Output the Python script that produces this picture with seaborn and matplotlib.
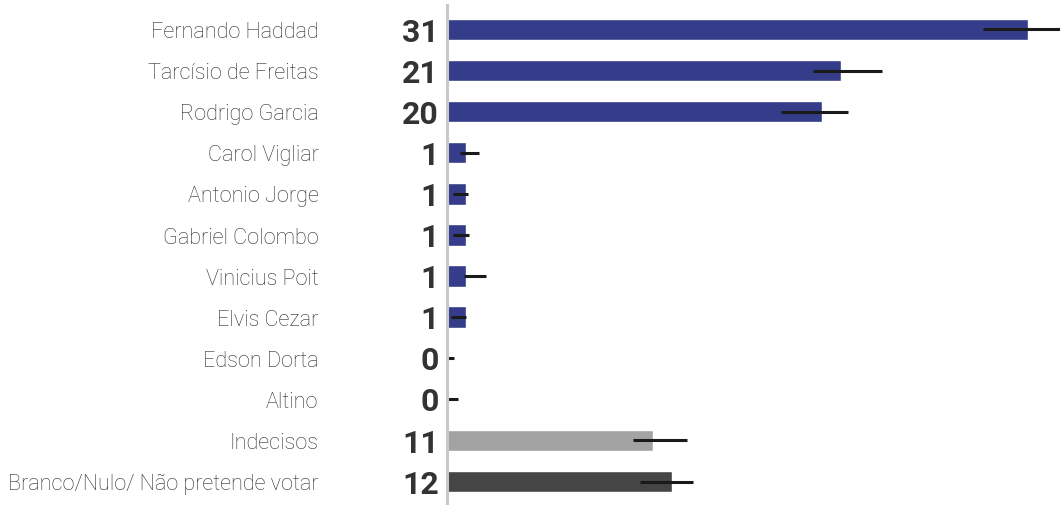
import matplotlib
matplotlib.use('Agg')
from matplotlib import pyplot as plt
import seaborn as sns
import pandas as pd

# Dados
candidatos = ['Fernando Haddad', 'Tarcísio de Freitas', 'Rodrigo Garcia', 'Carol Vigliar',
              'Antonio Jorge', 'Gabriel Colombo', 'Vinicius Poit', 'Elvis Cezar',
              'Edson Dorta', 'Altino', 'Indecisos', 'Branco/Nulo/ Não pretende votar']
votos = [31, 21, 20, 1, 1, 1, 1, 1, 0, 0, 11, 12]
erro_min = [28.6, 19.5, 17.8, 0.7, 0.3, 0.3, 0.9, 0.2, 0.0, 0.0, 9.9, 10.3]
erro_max = [33.5, 23.2, 21.4, 1.7, 1.1, 1.2, 2.1, 1.0, 0.4, 0.6, 12.8, 13.1]
cores = ['#353c89'] * 10 + ['#a3a3a3', '#454545']

df = pd.DataFrame({'Candidato': candidatos, 'Votos': votos})

sns.set_style('white')
plt.rcParams['font.family'] = ['Roboto', 'DejaVu Sans']

fig = plt.figure(figsize=(10.6, 5.06), dpi=100)
ax = fig.add_axes([447 / 1060, 0, 613 / 1060, 500 / 506])

sns.barplot(data=df, x='Votos', y='Candidato', hue='Candidato', palette=cores,
            legend=False, width=0.52, saturation=1, orient='h', ax=ax)

# Barras de erro
ax.hlines(range(len(candidatos)), erro_min, erro_max, color='#1a1a1a', linewidth=2.2, zorder=5)

ax.set_xlim(0, 32.7)
ax.set_ylim(11.57, -0.596)
ax.set_xlabel('')
ax.set_ylabel('')
ax.set_xticks([])
ax.set_yticks([])

for s in ['top', 'right', 'bottom']:
    ax.spines[s].set_visible(False)
ax.spines['left'].set_color('#c8c8c8')
ax.spines['left'].set_linewidth(2.2)
ax.spines['left'].set_zorder(6)

# Nomes e valores
for i, (nome, v) in enumerate(zip(candidatos, votos)):
    ax.annotate(nome, xy=(0, i), xycoords=('axes fraction', 'data'),
                xytext=(-92.5, -1.5), textcoords='offset points',
                ha='right', va='center', fontsize=15.6, fontweight='light', color='#2e2e2e')
    ax.annotate(str(v), xy=(0, i), xycoords=('axes fraction', 'data'),
                xytext=(-6, -1.5), textcoords='offset points',
                ha='right', va='center', fontsize=23, fontweight='bold', color='#333333')

plt.savefig('out.png', dpi=100)
